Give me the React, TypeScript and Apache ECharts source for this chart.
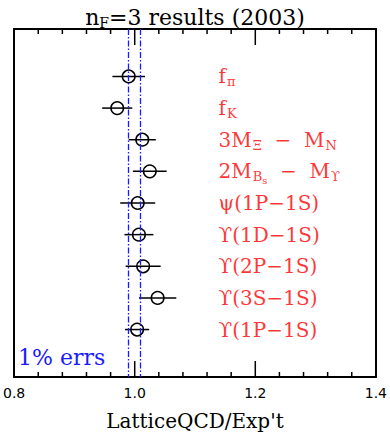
import React, { useEffect, useRef } from "react";
import * as echarts from "echarts";

const quantities = [
  "{m|f}{s|π}",
  "{m|f}{s|K}",
  "{m|3M}{s|Ξ}{m|  −  M}{s|N}",
  "{m|2M}{s|B}{ss|s}{m|  −  M}{s|ϒ}",
  "{m|ψ(1P−1S)}",
  "{m|ϒ(1D−1S)}",
  "{m|ϒ(2P−1S)}",
  "{m|ϒ(3S−1S)}",
  "{m|ϒ(1P−1S)}",
];
const ratios = [0.99, 0.971, 1.0125, 1.025, 1.005, 1.007, 1.014, 1.038, 1.004];
const errors = [0.027, 0.025, 0.0225, 0.028, 0.029, 0.024, 0.029, 0.031, 0.02];
const errBand = [0.99, 1.01];
const xTicks = [0.8, 1.0, 1.2, 1.4];
const minorTicks = [0.84, 0.88, 0.92, 0.96, 1.04, 1.08, 1.12, 1.16, 1.24, 1.28, 1.32, 1.36];
const labelX = 1.139;
const yMin = -1.5;
const yMax = 9.5;

const SERIF = "DejaVu Serif";
const SANS = "DejaVu Sans";

function xAxisBase() {
  return {
    type: "value",
    min: xTicks[0],
    max: xTicks[xTicks.length - 1],
    interval: 0.2,
    splitLine: { show: false },
    axisLine: { show: true, onZero: false, lineStyle: { color: "#000", width: 2 } },
    axisTick: { show: false },
    minorTick: { show: false },
  };
}

function sideAxis(pos: string) {
  return {
    type: "value",
    inverse: true,
    min: yMin,
    max: yMax,
    position: pos,
    axisLine: { show: true, onZero: false, lineStyle: { color: "#000", width: 2 } },
    axisTick: { show: false },
    axisLabel: { show: false },
    splitLine: { show: false },
  };
}

export default function App() {
  const ref = useRef<HTMLDivElement>(null);
  useEffect(() => {
    document.body.style.margin = "0";
    if (!ref.current) return;
    const chart = echarts.init(ref.current, null, { renderer: "svg" });
    const rows = ratios.map((v, i) => [v, errors[i], i]);
    const tickRows = [
      ...xTicks.map((t) => [t, 16, 0]),
      ...minorTicks.map((t) => [t, 5, 0]),
    ];
    chart.setOption({
      animation: false,
      backgroundColor: "#fff",
      title: {
        text: "{m|n}{s|F}{m|=3 results (2003)}",
        left: "center",
        top: 0,
        textStyle: {
          fontWeight: "normal",
          rich: {
            m: { fontFamily: SERIF, fontSize: 22, fontWeight: "normal", color: "#000" },
            s: { fontFamily: SERIF, fontSize: 14, fontWeight: "normal", color: "#000", padding: [11, 0, 0, 0] },
          },
        },
      },
      grid: { left: 11, right: 11, top: 29, bottom: 59 },
      xAxis: [
        {
          ...xAxisBase(),
          position: "bottom",
          name: "LatticeQCD/Exp't",
          nameLocation: "middle",
          nameGap: 34,
          nameTextStyle: { fontFamily: SERIF, fontSize: 20, color: "#000" },
          axisLabel: {
            show: true,
            margin: 9,
            fontFamily: SANS,
            fontSize: 14,
            color: "#000",
            formatter: (v: number) => v.toFixed(1),
          },
        },
        { ...xAxisBase(), position: "top", axisLabel: { show: false } },
      ],
      yAxis: [sideAxis("left"), sideAxis("right")],
      series: [
        {
          type: "custom",
          data: tickRows,
          encode: { x: 0, y: 2 },
          silent: true,
          clip: false,
          renderItem: (params: any, api: any) => {
            const x = api.value(0);
            const len = api.value(1);
            const top = api.coord([x, yMin]);
            const bot = api.coord([x, yMax]);
            return {
              type: "group",
              children: [
                {
                  type: "line",
                  shape: { x1: top[0], y1: top[1], x2: top[0], y2: top[1] + len },
                  style: { stroke: "#000", lineWidth: 1.5 },
                },
                {
                  type: "line",
                  shape: { x1: bot[0], y1: bot[1], x2: bot[0], y2: bot[1] - len },
                  style: { stroke: "#000", lineWidth: 1.5 },
                },
              ],
            };
          },
        },
        {
          type: "custom",
          data: rows,
          encode: { x: 0, y: 2 },
          renderItem: (params: any, api: any) => {
            const v = api.value(0);
            const e = api.value(1);
            const r = api.value(2);
            const a = api.coord([v - e, r]);
            const b = api.coord([v + e, r]);
            const c = api.coord([v, r]);
            return {
              type: "group",
              children: [
                {
                  type: "line",
                  shape: { x1: a[0], y1: a[1], x2: b[0], y2: b[1] },
                  style: { stroke: "#000", lineWidth: 1.5 },
                },
                {
                  type: "circle",
                  shape: { cx: c[0], cy: c[1], r: 6.3 },
                  style: { stroke: "#000", lineWidth: 1.5, fill: "none" },
                },
              ],
            };
          },
          markLine: {
            silent: true,
            symbol: "none",
            label: { show: false },
            lineStyle: { color: "#1a1aff", width: 1.3, type: [6, 2, 1.5, 2] },
            data: errBand.map((x) => ({ xAxis: x })),
          },
          z: 3,
        },
        {
          type: "scatter",
          symbolSize: 0,
          data: quantities.map((q, i) => [labelX, i]),
          label: {
            show: true,
            position: "right",
            distance: 0,
            formatter: (p: any) => quantities[p.dataIndex],
            rich: {
              m: { fontFamily: SERIF, fontSize: 20, color: "#ff0000" },
              s: { fontFamily: SERIF, fontSize: 13, color: "#ff0000", padding: [11, 0, 0, 1] },
              ss: { fontFamily: SERIF, fontSize: 10, color: "#ff0000", padding: [19, 0, 0, 0] },
            },
          },
          silent: true,
        },
      ],
      graphic: [
        {
          type: "text",
          left: 18,
          top: 346,
          style: { text: "1% errs", fontFamily: SERIF, fontSize: 22, fill: "#1a1aff" },
        },
      ],
    });
    return () => chart.dispose();
  }, []);
  return <div ref={ref} style={{ width: 390, height: 436 }} />;
}
